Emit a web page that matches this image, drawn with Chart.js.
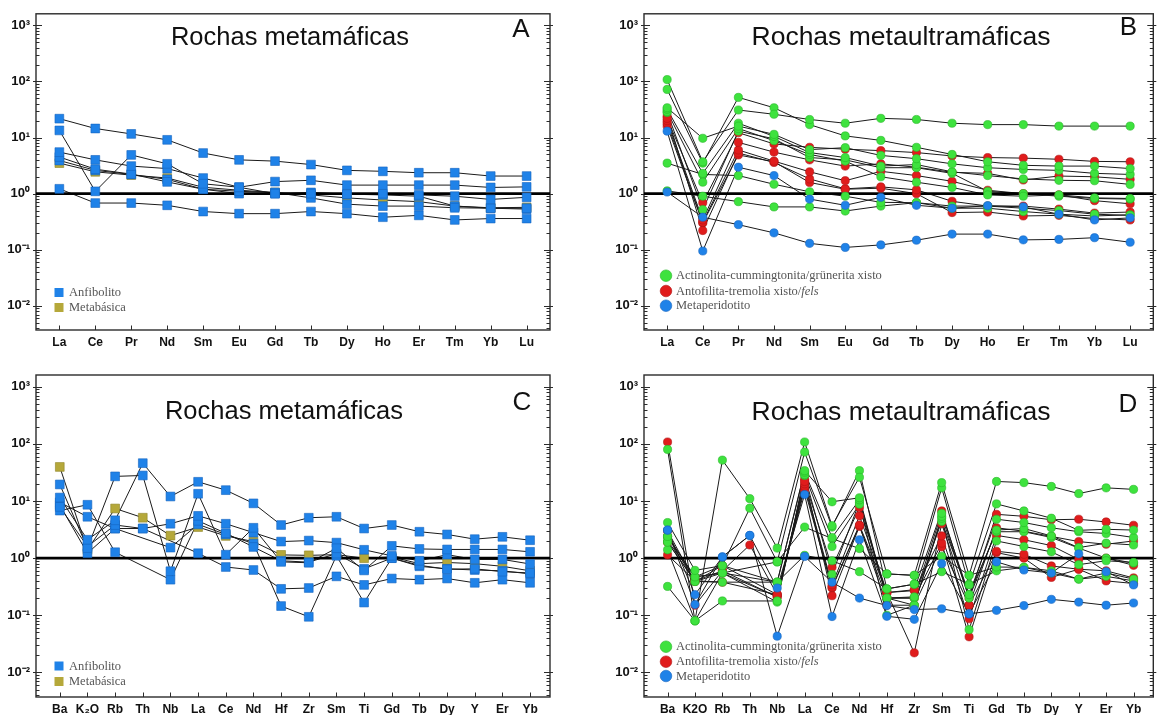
<!DOCTYPE html>
<html><head><meta charset="utf-8">
<script src="https://cdn.jsdelivr.net/npm/chart.js@4.4.1/dist/chart.umd.min.js"></script>
<style>
html,body{margin:0;padding:0;background:#fff;width:1158px;height:715px;overflow:hidden}
canvas{position:absolute}
</style></head><body>
<canvas id="cA" width="579" height="357" style="left:0;top:0;width:579px;height:357px"></canvas>
<canvas id="cB" width="579" height="357" style="left:579px;top:0;width:579px;height:357px"></canvas>
<canvas id="cC" width="579" height="358" style="left:0;top:357px;width:579px;height:358px"></canvas>
<canvas id="cD" width="579" height="358" style="left:579px;top:357px;width:579px;height:358px"></canvas>
<script>
// ---------- categories & tick labels ----------
const reeCats = ['La','Ce','Pr','Nd','Sm','Eu','Gd','Tb','Dy','Ho','Er','Tm','Yb','Lu'];
const spiderCatsC = ['Ba','K\u2082O','Rb','Th','Nb','La','Ce','Nd','Hf','Zr','Sm','Ti','Gd','Tb','Dy','Y','Er','Yb'];
const spiderCatsD = ['Ba','K2O','Rb','Th','Nb','La','Ce','Nd','Hf','Zr','Sm','Ti','Gd','Tb','Dy','Y','Er','Yb'];
const yTickValues = [0.01, 0.1, 1, 10, 100, 1000];
const yTickLabels = ['10\u207B\u00B2','10\u207B\u00B9','10\u2070','10\u00B9','10\u00B2','10\u00B3'];

// ---------- Panel A : REE, metamafic ----------
const A_anfibolito = [
  [21.7,14.5,11.6,9.1,5.3,4.0,3.8,3.3,2.6,2.5,2.36,2.36,2.06,2.06],
  [13.4,1.1,4.9,3.4,1.5,1.3,1.64,1.73,1.42,1.42,1.42,1.42,1.29,1.32],
  [5.5,4.0,3.1,2.8,1.9,1.3,1.0,1.0,0.98,1.0,0.95,0.9,0.79,0.86],
  [4.5,2.73,2.23,1.62,1.2,1.1,1.05,0.84,0.65,0.6,0.6,0.56,0.55,0.55],
  [3.9,2.6,2.2,1.8,1.2,1.0,1.0,1.05,0.98,0.95,0.9,0.6,0.55,0.53],
  [1.22,0.68,0.68,0.62,0.48,0.44,0.44,0.48,0.44,0.38,0.41,0.34,0.36,0.36]
];
const A_metabasica = [
  [3.5,2.45,2.14,1.9,1.3,1.15,1.05,0.95,0.84,0.77,0.72,0.6,0.56,0.57]
];

// ---------- Panel C : spidergram, metamafic ----------
const C_anfibolito = [
  [11.5,2.1,4.6,46,12,21.7,15.5,9.1,3.8,5.1,5.3,3.3,3.8,2.9,2.6,2.15,2.36,2.06],
  [19.5,1.5,27,28,0.59,13.4,1.15,3.4,0.86,0.83,1.49,0.61,1.64,1.45,1.42,1.42,1.42,1.29],
  [7.9,1.6,3.8,3.3,4.0,5.5,4.0,2.8,1.95,2.03,1.87,1.4,1.1,0.9,1.15,0.95,0.95,0.79],
  [6.8,8.6,1.27,null,0.42,4.5,2.73,1.57,0.9,0.85,1.2,0.65,1.0,0.75,0.64,0.65,0.58,0.55],
  [9.5,5.3,3.3,null,1.53,3.9,2.6,1.8,0.145,0.094,1.1,0.167,1.0,0.72,0.65,0.62,0.6,0.53],
  [8.5,1.22,3.3,3.3,null,1.22,0.7,0.62,0.29,0.3,0.48,0.34,0.44,0.42,0.44,0.37,0.42,0.37]
];
const C_metabasica = [
  [39.5,1.4,7.4,5.1,2.48,3.5,2.45,1.95,1.14,1.12,1.15,1.0,1.05,0.8,0.84,0.8,0.72,0.6]
];

// ---------- Panel B : REE, metaultramafic ----------
const B_actinolita = [
  [108,3.7,31,26,21,18,22,21,18,17,17,16,16,16],
  [72,3.5,52,34,17,10.7,8.9,6.7,5.0,3.7,3.2,3.1,3.1,2.8],
  [34,9.7,16,11.4,6.1,6.6,4.8,4.2,3.4,2.9,2.7,2.6,2.3,2.2],
  [32,2.3,18,10.5,5.4,4.4,3.1,3.3,2.45,2.1,1.83,1.73,1.7,1.46],
  [29,1.6,14.5,8.8,5.0,3.8,2.0,1.6,1.29,0.95,0.9,0.95,0.84,0.82],
  [3.5,2.2,2.1,1.47,1.08,0.9,0.7,0.69,0.6,0.6,0.55,0.5,0.43,0.41],
  [1.12,0.9,0.72,0.58,0.58,0.49,0.6,0.69,0.55,0.55,0.48,0.43,0.4,0.42],
  [28,0.52,13,9.5,4.4,4.0,2.9,2.9,2.3,1.1,1.0,0.9,0.82,0.8]
];
const B_antofilita = [
  [22,0.69,12.2,7.7,6.7,6.2,5.85,5.4,4.7,4.4,4.3,4.1,3.76,3.7],
  [20,0.34,8.2,5.5,4.0,3.1,3.4,2.96,2.4,2.3,1.75,2.06,2.0,1.8],
  [18,0.31,6.0,3.8,2.45,1.7,2.5,2.1,1.66,1.15,1.0,0.95,0.75,0.66],
  [24,0.22,5.3,3.6,1.83,1.22,1.32,1.17,0.73,0.6,0.6,0.53,0.45,0.47],
  [16,0.3,4.9,3.7,1.58,1.2,1.25,1.0,0.46,0.47,0.4,0.41,0.36,0.34]
];
const B_metaperidotito = [
  [13,0.095,2.96,2.1,0.8,0.62,0.86,0.62,0.55,0.61,0.58,0.43,0.34,0.37],
  [1.07,0.38,0.28,0.2,0.13,0.11,0.122,0.148,0.19,0.19,0.15,0.153,0.164,0.136]
];

// ---------- Panel D : spidergram, metaultramafic ----------
const D_actinolita = [
  [80,0.08,52,11,1.5,108,3.7,26,0.53,0.5,21,0.5,22,21,18,13.5,17,16],
  [4.2,0.61,0.74,7.5,0.86,72,3.5,34,0.29,0.35,17,0.34,8.9,6.7,5.0,3.07,3.2,3.1],
  [2.4,0.47,0.55,null,0.38,34,9.7,11.4,0.2,0.21,6.1,0.23,4.8,4.2,3.4,2.9,2.7,2.3],
  [1.9,0.39,0.38,null,0.38,32,2.3,10.5,0.2,0.15,5.4,0.2,3.1,3.3,2.45,1.53,1.83,1.7],
  [1.4,0.08,0.178,null,0.178,29,1.6,8.8,0.1,0.15,5.0,0.056,2.0,1.6,1.29,0.77,0.9,0.84],
  [0.32,0.08,0.55,null,0.86,3.5,2.2,1.47,0.53,0.5,1.08,0.5,0.7,0.69,0.6,0.43,0.55,0.43],
  [2.0,0.47,0.74,null,0.38,1.12,0.9,0.58,0.29,0.35,0.58,0.35,0.6,0.69,0.55,0.43,0.48,0.4],
  [2.4,0.39,0.55,null,0.17,28,0.52,9.5,0.2,0.2,4.4,0.23,2.9,2.9,2.3,1.5,1.0,0.82]
];
const D_antofilita = [
  [108,0.15,0.6,1.7,0.23,22,0.69,7.7,0.25,0.28,6.7,0.2,5.85,5.4,4.7,4.8,4.3,3.76],
  [1.14,0.4,0.6,null,0.21,20,0.34,5.5,0.25,0.022,4.0,0.15,3.4,2.96,2.4,1.95,1.75,2.0],
  [3.0,0.39,0.74,null,0.23,18,0.31,3.8,0.25,0.27,2.45,0.087,2.5,2.1,1.66,0.95,1.0,0.75],
  [2.4,0.47,0.55,null,0.21,24,0.22,3.6,0.2,0.2,1.83,0.042,1.32,1.17,0.73,0.64,0.6,0.45],
  [1.9,0.4,0.38,null,0.23,16,0.3,3.7,0.15,0.15,1.58,0.15,1.25,1.0,0.46,0.64,0.4,0.36]
];
const D_metaperidotito = [
  [3.1,0.23,1.05,2.5,0.3,13,0.095,2.1,0.096,0.085,0.8,0.106,0.86,0.62,0.55,1.19,0.58,0.34],
  [3.1,0.154,1.05,2.5,0.043,1.07,0.38,0.2,0.148,0.126,0.13,0.106,0.122,0.148,0.19,0.17,0.15,0.164]
];

// ---------- styles ----------
const COL = {blue:'#1f82e8', olive:'#b5a83a', green:'#3ee23e', red:'#e01c1c'};
const EDGE = {blue:'#1565c0', olive:'#8f8428', green:'#26b526', red:'#b01414'};
const SANS = '"Liberation Sans", Arial, Helvetica, sans-serif';
const SERIF = '"Liberation Serif", "Times New Roman", serif';

function buildDatasets(groups, cats, xr) {
  const ds = [];
  groups.forEach(g => {
    g.rows.forEach(row => {
      const pts = row.map((v, i) => ({x: i, y: v}));
      ds.push({data: pts, borderColor: '#1a1a1a', borderWidth: 1, pointRadius: 0,
               spanGaps: true, fill: false, tension: 0, order: 10});
      ds.push({data: pts, showLine: false, pointStyle: g.style, pointRadius: g.r,
               pointBackgroundColor: COL[g.col], pointBorderColor: EDGE[g.col],
               pointBorderWidth: 0.6, order: g.order});
    });
  });
  ds.push({data: [{x: xr[0], y: 1}, {x: xr[1], y: 1}], borderColor: '#000', borderWidth: 2.6,
           pointRadius: 0, order: 5});
  return ds;
}

const framePlugin = {
  id: 'frame',
  beforeDatasetsDraw(chart) {
    const {ctx, chartArea: a, scales: {x, y}} = chart;
    ctx.save();
    ctx.strokeStyle = '#2b2b2b';
    ctx.lineWidth = 1;
    const seg = (x1, y1, x2, y2) => { ctx.beginPath(); ctx.moveTo(x1, y1); ctx.lineTo(x2, y2); ctx.stroke(); };
    for (let e = -3; e <= 3; e++) {
      for (let m = 1; m < 10; m++) {
        const v = m * Math.pow(10, e);
        if (v < y.min || v > y.max) continue;
        const py = Math.round(y.getPixelForValue(v)) + 0.5;
        const len = m === 1 ? 6 : 3.5;
        seg(a.left, py, a.left + len, py);
        seg(a.right - len, py, a.right, py);
        if (m === 1) { seg(a.left - 3, py, a.left, py); seg(a.right, py, a.right + 3, py); }
      }
    }
    x.ticks.forEach(t => {
      const px = Math.round(x.getPixelForValue(t.value)) + 0.5;
      seg(px, a.bottom, px, a.bottom - 4.5);
    });
    ctx.lineWidth = 1.4;
    ctx.strokeRect(a.left, a.top, a.right - a.left, a.bottom - a.top);
    ctx.restore();
  },
  afterDraw(chart, args, opts) {
    const ctx = chart.ctx;
    ctx.save();
    ctx.fillStyle = '#111';
    ctx.textAlign = 'center';
    ctx.textBaseline = 'middle';
    ctx.font = opts.titleSize + 'px ' + SANS;
    ctx.fillText(opts.title, opts.titleX, opts.titleY);
    ctx.font = '26px ' + SANS;
    ctx.fillText(opts.letter, opts.letterX, opts.letterY);
    // legend
    ctx.textAlign = 'left';
    opts.legend.forEach((it, i) => {
      const cy = opts.legY[i];
      ctx.fillStyle = COL[it.col];
      ctx.strokeStyle = EDGE[it.col];
      ctx.lineWidth = 0.6;
      if (opts.legShape === 'rect') {
        ctx.fillRect(opts.legX - 4.5, cy - 4.5, 9, 9);
      } else {
        ctx.beginPath(); ctx.arc(opts.legX, cy, 5.8, 0, Math.PI * 2); ctx.fill(); ctx.stroke();
      }
      ctx.fillStyle = '#555';
      let tx = opts.legX + 10;
      ctx.font = '12.5px ' + SERIF;
      ctx.fillText(it.text, tx, cy + 0.5);
      if (it.ital) {
        tx += ctx.measureText(it.text).width;
        ctx.font = 'italic 12.5px ' + SERIF;
        ctx.fillText(it.ital, tx, cy + 0.5);
      }
    });
    ctx.restore();
  }
};

function makePanel(id, cats, groups, geo, deco) {
  const canvas = document.getElementById(id);
  const xr = geo.xr;
  new Chart(canvas, {
    type: 'line',
    data: {datasets: buildDatasets(groups, cats, xr)},
    options: {
      responsive: false, animation: false, devicePixelRatio: 1,
      layout: {padding: {left: 0, top: geo.top, right: geo.right, bottom: 0}},
      plugins: {legend: {display: false}, tooltip: {enabled: false}, frame: deco},
      scales: {
        x: {
          type: 'linear', min: xr[0], max: xr[1],
          afterBuildTicks: s => { s.ticks = cats.map((c, i) => ({value: i})); },
          afterFit: s => { s.height = geo.xh; },
          grid: {display: false, drawTicks: false}, border: {display: false},
          ticks: {autoSkip: false, maxRotation: 0, padding: 5, color: '#111',
                  font: {family: SANS, size: 12, weight: 'bold'},
                  callback: (v, i) => cats[i]}
        },
        y: {
          type: 'logarithmic', min: 0.00371, max: 1607,
          afterBuildTicks: s => { s.ticks = yTickValues.map(v => ({value: v})); },
          afterFit: s => { s.width = geo.yw; },
          grid: {display: false, drawTicks: false}, border: {display: false},
          ticks: {autoSkip: false, padding: 6, color: '#111',
                  font: {family: SANS, size: 13, weight: 'bold'},
                  callback: (v, i) => yTickLabels[i]}
        }
      }
    },
    plugins: [framePlugin]
  });
}

const reeRange = [-0.65, 13.65];
const spRange = [-0.86, 17.72];
const legMafic = [{col: 'blue', text: 'Anfibolito'}, {col: 'olive', text: 'Metabásica'}];
const legUltra = [{col: 'green', text: 'Actinolita-cummingtonita/grünerita xisto'},
                  {col: 'red', text: 'Antofilita-tremolia xisto/', ital: 'fels'},
                  {col: 'blue', text: 'Metaperidotito'}];

makePanel('cA', reeCats,
  [{rows: A_metabasica, col: 'olive', style: 'rect', r: 6.2, order: 2},
   {rows: A_anfibolito, col: 'blue', style: 'rect', r: 6.2, order: 1}],
  {xr: reeRange, top: 7, right: 29, xh: 27, yw: 36},
  {title: 'Rochas metamáficas', titleSize: 25.5, titleX: 290, titleY: 38, letter: 'A', letterX: 521, letterY: 30,
   legend: legMafic, legShape: 'rect', legX: 59, legY: [292.5, 307.5]});

makePanel('cB', reeCats,
  [{rows: B_antofilita, col: 'red', style: 'circle', r: 4.1, order: 3},
   {rows: B_actinolita, col: 'green', style: 'circle', r: 4.1, order: 2},
   {rows: B_metaperidotito, col: 'blue', style: 'circle', r: 4.1, order: 1}],
  {xr: reeRange, top: 7, right: 1, xh: 27, yw: 65},
  {title: 'Rochas metaultramáficas', titleSize: 26.5, titleX: 322, titleY: 38, letter: 'B', letterX: 549.5, letterY: 28,
   legend: legUltra, legShape: 'circle', legX: 87, legY: [275.7, 291, 305.7]});

makePanel('cC', spiderCatsC,
  [{rows: C_metabasica, col: 'olive', style: 'rect', r: 6.2, order: 2},
   {rows: C_anfibolito, col: 'blue', style: 'rect', r: 6.2, order: 1}],
  {xr: spRange, top: 18, right: 29, xh: 18, yw: 36},
  {title: 'Rochas metamáficas', titleSize: 25.5, titleX: 284, titleY: 55, letter: 'C', letterX: 522, letterY: 46,
   legend: legMafic, legShape: 'rect', legX: 59, legY: [309, 324.5]});

makePanel('cD', spiderCatsD,
  [{rows: D_antofilita, col: 'red', style: 'circle', r: 4.1, order: 3},
   {rows: D_actinolita, col: 'green', style: 'circle', r: 4.1, order: 2},
   {rows: D_metaperidotito, col: 'blue', style: 'circle', r: 4.1, order: 1}],
  {xr: spRange, top: 18, right: 1, xh: 18, yw: 65},
  {title: 'Rochas metaultramáficas', titleSize: 26.5, titleX: 322, titleY: 56, letter: 'D', letterX: 549, letterY: 48,
   legend: legUltra, legShape: 'circle', legX: 87, legY: [289.7, 304.7, 319]});
</script>
</body></html>
